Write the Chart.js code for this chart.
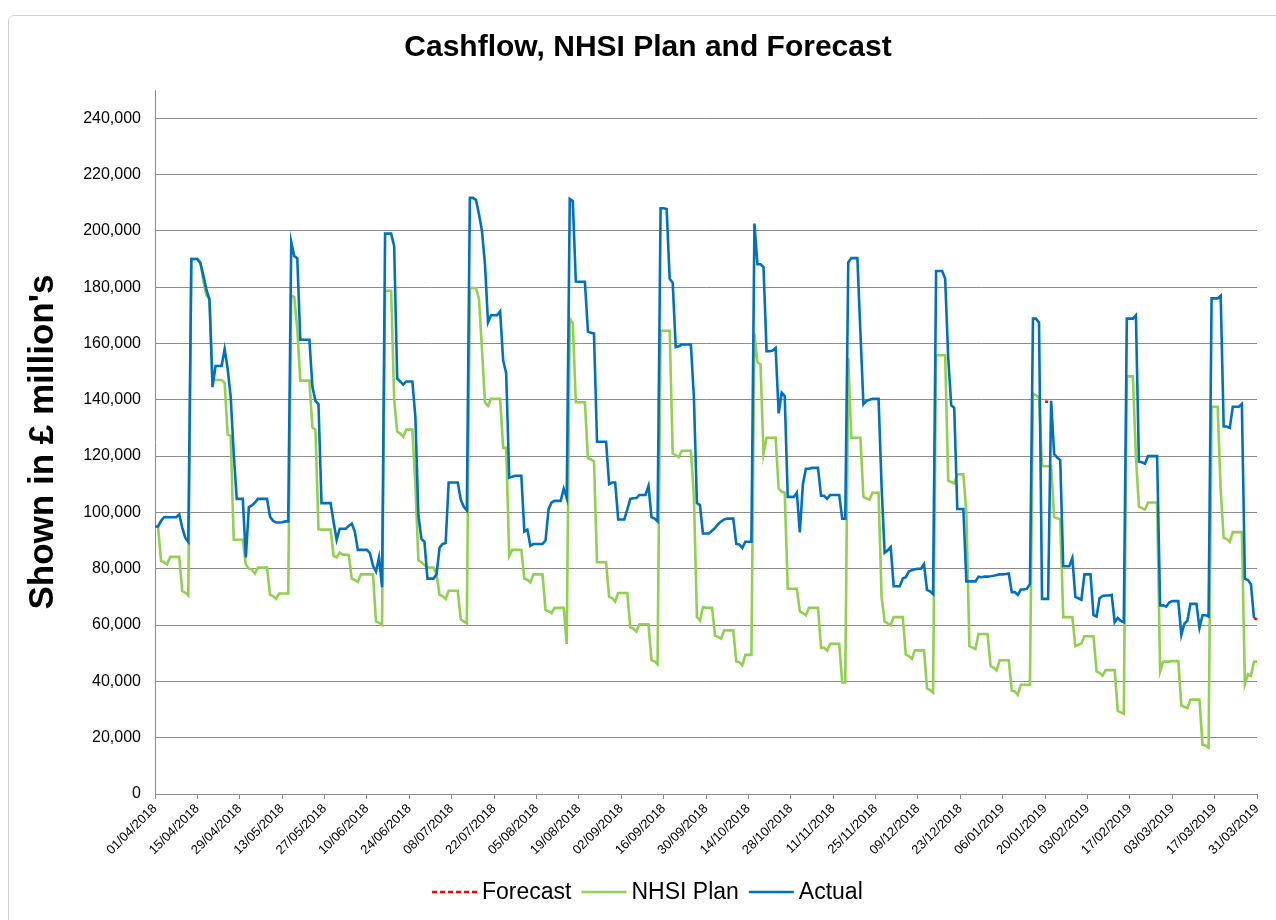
<!DOCTYPE html>
<html>
<head>
<meta charset="utf-8">
<script src="https://cdn.jsdelivr.net/npm/chart.js@4.4.1/dist/chart.umd.min.js"></script>
<style>
  html, body { margin: 0; padding: 0; background: #ffffff; }
  #wrap { position: relative; width: 1276px; height: 920px; overflow: hidden; }
  #cashflow { position: absolute; left: 0; top: 0; }
  #frame { position: absolute; left: 8px; top: 15px; width: 1290px; height: 940px;
           border: 1px solid #d0d0d0; border-radius: 6px; box-sizing: border-box; pointer-events: none; }
</style>
</head>
<body>
<div id="wrap">
  <canvas id="cashflow" width="1276" height="920"></canvas>
  <div id="frame"></div>
</div>
<script>
// Daily cash position, 01/04/2018 – 31/03/2019 (one value per day, £)
const chartTitle = 'Cashflow, NHSI Plan and Forecast';
const yAxisTitle = "Shown in £ million's";

const actual = [
  95000, 95000, 97000, 98300, 98300, 98300, 98300, 98300, 99300, 94600, 91000, 89500, 190000, 190000,
  190000, 188500, 184000, 179000, 175500, 144500, 152000, 152000, 152000, 158000, 151000, 141000, 121000, 104800,
  104800, 104800, 84000, 101900, 102500, 103500, 104800, 104800, 104800, 104800, 98500, 97000, 96400, 96400,
  96500, 96800, 96800, 196000, 191000, 190300, 161300, 161300, 161300, 161300, 144600, 139600, 138400, 103300,
  103300, 103300, 103300, 96500, 90300, 94200, 94200, 94200, 95200, 96000, 93200, 86700, 86700, 86700,
  86700, 85500, 81000, 79000, 84000, 73500, 199000, 199000, 199000, 194600, 147500, 146500, 145400, 146500,
  146500, 146500, 134000, 99000, 90600, 89600, 76500, 76500, 76500, 78000, 87500, 88800, 89100, 110600,
  110600, 110600, 110600, 104500, 102000, 100700, 211700, 211700, 211000, 206000, 200000, 188000, 167500, 170000,
  170000, 170000, 171400, 154000, 149400, 112300, 112700, 113000, 113000, 113000, 93200, 93900, 88100, 88800,
  88800, 88800, 88800, 90000, 101200, 103500, 104100, 104100, 104100, 108400, 105100, 211300, 210600, 182000,
  181900, 181900, 181900, 164200, 163800, 163500, 125100, 125100, 125100, 125100, 110000, 110600, 110600, 97500,
  97500, 97500, 101000, 104800, 105000, 105100, 106200, 106200, 106200, 109400, 98300, 97800, 96800, 208000,
  208000, 207700, 183000, 181600, 158700, 159000, 159600, 159600, 159600, 159600, 141000, 103300, 102600, 92500,
  92500, 92500, 93500, 94500, 95800, 96800, 97500, 97800, 97800, 97800, 88800, 88600, 87400, 89600,
  89600, 89600, 202600, 188100, 188100, 187100, 157200, 157200, 157500, 158400, 135200, 142500, 141300, 105500,
  105500, 105500, 107000, 92900, 110000, 115500, 115500, 115800, 115800, 115800, 105900, 105900, 104800, 106200,
  106200, 106200, 106200, 97800, 97800, 188800, 190300, 190300, 190300, 164000, 138400, 139600, 140000, 140300,
  140300, 140300, 109100, 85700, 86500, 87700, 73800, 73800, 73800, 76500, 77000, 79000, 79500, 79800,
  80000, 80000, 81600, 72500, 72000, 71000, 185700, 185700, 185700, 183000, 155000, 138100, 137100, 101200,
  101200, 101200, 75500, 75500, 75500, 75500, 77200, 77000, 77200, 77200, 77300, 77500, 77800, 78000,
  78000, 78100, 78300, 71700, 71700, 70700, 72600, 72600, 72900, 74500, 168800, 168800, 167400, 69300,
  69300, 69300, 139600, 120700, 119500, 118600, 80900, 80900, 80900, 83800, 70000, 69500, 69000, 78000,
  78000, 78000, 63500, 63000, 69500, 70300, 70500, 70500, 70700, 61000, 62500, 61500, 61000, 168800,
  168800, 168800, 170000, 118000, 117800, 117300, 120000, 120000, 120000, 120000, 67000, 67000, 66500, 68000,
  68500, 68500, 68500, 56500, 60500, 61500, 67500, 67500, 67500, 59000, 63500, 63500, 63000, 176000,
  176000, 176000, 177000, 130500, 130500, 130000, 137500, 137500, 137500, 138500, 76500, 76000, 74500, 62500,
  null
];

const nhsiPlan = [
  95000, 95000, 82800, 82300, 81600, 84200, 84200, 84200, 84200, 72000, 71500, 70500, 190000, 190000,
  190000, 189000, 182000, 177000, 176000, 147000, 147000, 147000, 147000, 146000, 127700, 127200, 90300, 90300,
  90300, 90300, 81500, 80000, 79700, 78300, 80400, 80400, 80400, 80400, 70700, 70300, 69300, 71200,
  71200, 71200, 71200, 177000, 176500, 165000, 146800, 146800, 146800, 146800, 130100, 129400, 94000, 93900,
  93900, 93900, 93900, 84500, 84000, 85700, 85000, 85000, 84800, 76500, 76000, 75300, 78000, 78000,
  78000, 78000, 78000, 61300, 60800, 60100, 178700, 178700, 178700, 140000, 128700, 128000, 126800, 129400,
  129400, 129400, 110000, 83000, 82300, 81300, 80400, 80400, 80400, 78000, 70700, 70300, 69300, 72200,
  72200, 72200, 72200, 62000, 61300, 60600, 179700, 179700, 179700, 176000, 158000, 139000, 137800, 140300,
  140300, 140300, 140300, 122900, 122900, 84500, 86700, 86700, 86700, 86700, 76500, 76100, 75100, 78000,
  78000, 78000, 78000, 65400, 64900, 64200, 66100, 66100, 66100, 66100, 53300, 168800, 167100, 139100,
  139100, 139100, 139100, 119300, 118800, 118100, 82300, 82300, 82300, 82300, 70000, 69600, 68300, 71400,
  71400, 71400, 71400, 59100, 58700, 57700, 60300, 60300, 60300, 60300, 47500, 47100, 46100, 164500,
  164500, 164500, 164500, 121000, 120300, 119600, 121900, 121900, 121900, 121900, 106000, 62800, 61600, 66400,
  66100, 66100, 66100, 56200, 55800, 55200, 58100, 58100, 58100, 58100, 47100, 46800, 45700, 49400,
  49400, 49400, 163500, 153300, 152600, 120700, 126500, 126500, 126500, 126500, 108400, 107400, 107000, 72900,
  72900, 72900, 72900, 64900, 64200, 63500, 66100, 66100, 66100, 66100, 51900, 51900, 50900, 53300,
  53300, 53300, 53300, 39600, 39600, 154800, 126500, 126500, 126500, 126500, 105500, 105000, 104500, 107000,
  107000, 107000, 70000, 61300, 60600, 59900, 62800, 62800, 62800, 62800, 49500, 49000, 48000, 51000,
  51000, 51000, 51000, 37500, 37000, 36000, 155800, 155800, 155800, 155800, 111300, 110800, 110300, 113500,
  113500, 113500, 100000, 52500, 52000, 51500, 56800, 56800, 56800, 56800, 45400, 44900, 43900, 47500,
  47500, 47500, 47500, 36700, 36400, 35200, 38800, 38800, 38800, 38800, 142200, 141700, 140700, 116400,
  116400, 116400, 116400, 98300, 97900, 97500, 62800, 62800, 62800, 62800, 52500, 53000, 53500, 56000,
  56000, 56000, 56000, 43500, 43000, 42000, 44000, 44000, 44000, 44000, 29500, 29000, 28500, 148300,
  148300, 148300, 120000, 102000, 101500, 101000, 103500, 103500, 103500, 103500, 43500, 47000, 47000, 47000,
  47200, 47200, 47200, 31500, 31000, 30500, 33500, 33500, 33500, 33500, 17500, 17200, 16500, 137500,
  137500, 137500, 108000, 91000, 90500, 89500, 93000, 93000, 93000, 93000, 39000, 42500, 42000, 47000,
  47000
];

// Forecast only differs from the actual line on a few days
const forecast = new Array(365).fill(null);
const forecastDays = [294, 295, 363, 364];
const forecastValues = [139300, 139300, 62500, 62000];
forecastDays.forEach((d, i) => { forecast[d] = forecastValues[i]; });

// Daily category labels dd/mm/yyyy
const dayLabels = [];
const firstDay = Date.UTC(2018, 3, 1);
for (let i = 0; i < 365; i++) {
  const dt = new Date(firstDay + i * 86400000);
  const dd = String(dt.getUTCDate()).padStart(2, '0');
  const mm = String(dt.getUTCMonth() + 1).padStart(2, '0');
  dayLabels.push(dd + '/' + mm + '/' + dt.getUTCFullYear());
}
const labelEvery = 14;

// Value axis: labelled gridlines every 20,000; the axis itself runs to 250,000
const yTickValues = [0, 20000, 40000, 60000, 80000, 100000, 120000, 140000, 160000, 180000, 200000, 220000, 240000];
const yMin = 0;
const yMax = 250000;

const FONT = '"Liberation Sans", Arial, Helvetica, sans-serif';
const GRID = '#8c8c8c';

const legendEntries = [
  { label: 'Forecast', color: '#FF0000', dash: [5, 3] },
  { label: 'NHSI Plan', color: '#92D050', dash: [] },
  { label: 'Actual', color: '#0070C0', dash: [] }
];

// Title, rotated axis title and the line legend
const decorations = {
  id: 'decorations',
  afterDraw(chart) {
    const ctx = chart.ctx;
    ctx.save();
    ctx.fillStyle = '#000000';
    ctx.textAlign = 'center';
    ctx.textBaseline = 'middle';
    ctx.font = 'bold 30px ' + FONT;
    ctx.fillText(chartTitle, 648, 48);

    ctx.save();
    ctx.translate(43, 442);
    ctx.rotate(-Math.PI / 2);
    ctx.font = 'bold 35px ' + FONT;
    ctx.fillText(yAxisTitle, 0, 0);
    ctx.restore();

    ctx.font = '23px ' + FONT;
    ctx.textAlign = 'left';
    const lineLen = 45, gap = 5, itemGap = 10;
    let x = 432;
    const y = 892;
    legendEntries.forEach(e => {
      ctx.beginPath();
      ctx.setLineDash(e.dash);
      ctx.strokeStyle = e.color;
      ctx.lineWidth = 2.5;
      ctx.moveTo(x, y);
      ctx.lineTo(x + lineLen, y);
      ctx.stroke();
      ctx.setLineDash([]);
      ctx.fillStyle = '#000000';
      ctx.fillText(e.label, x + lineLen + gap, y + 1);
      x += lineLen + gap + ctx.measureText(e.label).width + itemGap;
    });
    ctx.restore();
  }
};

new Chart(document.getElementById('cashflow'), {
  type: 'line',
  data: {
    labels: dayLabels,
    datasets: [
      { label: 'Actual', data: actual, borderColor: '#0070C0', backgroundColor: '#0070C0', borderWidth: 2.6 },
      { label: 'NHSI Plan', data: nhsiPlan, borderColor: '#92D050', backgroundColor: '#92D050', borderWidth: 2.6 },
      { label: 'Forecast', data: forecast, borderColor: '#FF0000', backgroundColor: '#FF0000', borderWidth: 2.6, borderDash: [4, 2] }
    ]
  },
  options: {
    responsive: false,
    animation: false,
    devicePixelRatio: 1,
    elements: { point: { radius: 0, hoverRadius: 0 }, line: { tension: 0 } },
    layout: { padding: { left: 0, right: 19, top: 90, bottom: 0 } },
    plugins: { legend: { display: false }, title: { display: false }, tooltip: { enabled: false } },
    scales: {
      x: {
        type: 'category',
        offset: false,
        afterFit(scale) { scale.height = 126; },
        grid: {
          drawOnChartArea: false,
          drawTicks: true,
          tickLength: 5,
          color: c => (c.index % labelEvery === 0 ? GRID : 'rgba(0,0,0,0)')
        },
        border: { display: true, color: GRID, width: 1 },
        ticks: {
          autoSkip: false,
          minRotation: 45,
          maxRotation: 45,
          padding: 2,
          color: '#000000',
          font: { family: FONT, size: 13 },
          callback: (v, i) => (i % labelEvery === 0 ? dayLabels[i] : '')
        }
      },
      y: {
        min: yMin,
        max: yMax,
        afterFit(scale) { scale.width = 155; },
        afterBuildTicks(scale) { scale.ticks = yTickValues.map(v => ({ value: v })); },
        grid: { color: GRID, lineWidth: 1, drawTicks: false },
        border: { display: true, color: GRID, width: 1 },
        ticks: {
          padding: 14,
          color: '#000000',
          font: { family: FONT, size: 16 },
          callback: v => v.toLocaleString('en-GB')
        }
      }
    }
  },
  plugins: [decorations]
});
</script>
</body>
</html>
